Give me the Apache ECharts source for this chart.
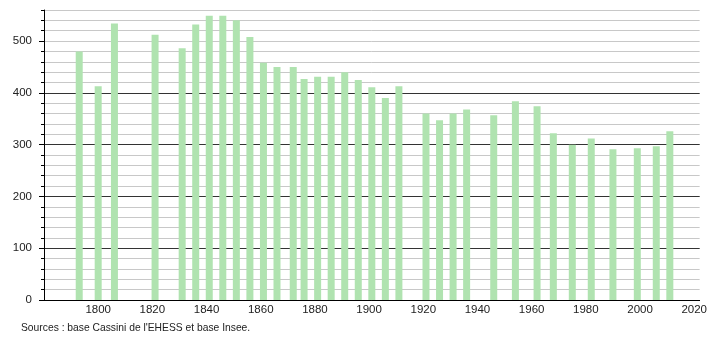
<!DOCTYPE html>
<html>
<head>
<meta charset="utf-8">
<title>Population</title>
<script src="https://cdn.jsdelivr.net/npm/echarts@6/dist/echarts.min.js"></script>
<style>
  html, body { margin: 0; padding: 0; background: #fff; }
  #chart { width: 710px; height: 340px; }
</style>
</head>
<body>
<div id="chart"></div>
<script>
// census years and population
var years = [1793, 1800, 1806, 1821, 1831, 1836, 1841, 1846, 1851, 1856, 1861, 1866, 1872, 1876, 1881, 1886, 1891, 1896,
  1901, 1906, 1911, 1921, 1926, 1931, 1936, 1946, 1954, 1962, 1968, 1975, 1982, 1990, 1999, 2006, 2011]
var population = [480, 413, 534, 512, 486, 532, 549, 549, 540, 508, 458, 450, 450, 427, 431, 431, 440, 425,
  411, 390, 413, 360, 347, 360, 368, 357, 384, 374, 322, 300, 312, 291, 293, 297, 326]
var majorTicks = [0, 100, 200, 300, 400, 500]
var xTicks = [1800, 1820, 1840, 1860, 1880, 1900, 1920, 1940, 1960, 1980, 2000, 2020]
var sourceText = "Sources : base Cassini de l'EHESS et base Insee."

var font = "'Liberation Sans', Arial, sans-serif"
var tickFont = "'Liberation Sans Narrow', 'Liberation Sans', Arial, sans-serif"
var chart = echarts.init(document.getElementById('chart'))

chart.setOption({
  animation: false,
  grid: { left: 44, right: 9, top: 10, bottom: 40 },
  xAxis: {
    type: 'value',
    min: 1780,
    max: 2022,
    interval: 20,
    axisLine: { show: true, lineStyle: { color: '#000', width: 1 } },
    axisTick: { show: false },
    splitLine: { show: false },
    axisLabel: {
      margin: 4,
      color: '#222',
      fontSize: 11.5,
      fontFamily: tickFont,
      formatter: function(v) {
        return xTicks.indexOf(v) >= 0 ? String(v) : ''
      }
    }
  },
  yAxis: [
    {
      // minor grid every 20
      type: 'value',
      min: 0,
      max: 560,
      interval: 20,
      axisLine: { show: true, lineStyle: { color: '#000', width: 1 } },
      axisTick: { show: true, length: 3, lineStyle: { color: '#000' } },
      axisLabel: { show: false },
      splitLine: { show: true, lineStyle: { color: '#c8c8c8', width: 1 } }
    },
    {
      // major grid every 100
      type: 'value',
      min: 0,
      max: 560,
      interval: 100,
      position: 'left',
      axisLine: { show: false },
      axisTick: { show: true, length: 5, customValues: majorTicks, lineStyle: { color: '#000' } },
      axisLabel: {
        margin: 12,
        color: '#222',
        fontSize: 11.5,
        fontFamily: tickFont,
        customValues: majorTicks,
        formatter: function(v) {
          return majorTicks.indexOf(v) >= 0 ? String(v) : ''
        }
      },
      splitLine: { show: true, showMaxLine: false, lineStyle: { color: '#333', width: 1 } }
    }
  ],
  series: [
    {
      type: 'bar',
      barWidth: 7,
      itemStyle: { color: '#b0e3b0' },
      data: years.map(function(y, i) { return [y, population[i]] }),
      z: 3
    }
  ],
  graphic: [
    {
      type: 'text',
      left: 21,
      top: 323,
      style: { text: sourceText, fill: '#222', fontSize: 10.3, fontFamily: font }
    }
  ]
})
</script>
</body>
</html>
